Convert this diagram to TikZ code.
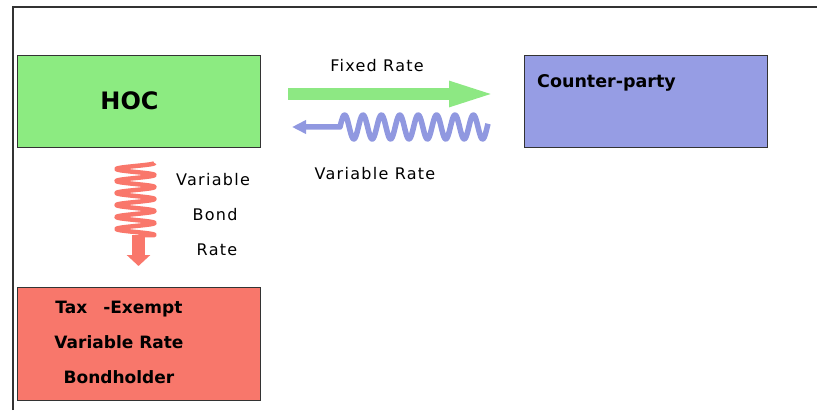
\documentclass[tikz,border=0pt]{standalone}
\usepackage{fontspec}
\setmainfont{DejaVu Sans}
\newfontfamily\ratefont[LetterSpace=8]{DejaVu Sans}
\usepackage{xcolor}
\usetikzlibrary{positioning,calc}
\usetikzlibrary{arrows.meta}

\definecolor{hocgreen}{HTML}{8CEB81}
\definecolor{cpblue}{HTML}{969DE4}
\definecolor{bondred}{HTML}{F8776B}
\definecolor{fixgreen}{HTML}{8DE883}
\definecolor{varblue}{HTML}{9098E0}
\definecolor{coilred}{HTML}{F9776B}

\tikzset{
  party/.style={draw=black!80, line width=1pt, inner sep=0pt, minimum width=243pt, minimum height=92pt},
  ratelabel/.style={font=\ratefont\fontsize{16}{19}\selectfont, inner sep=0pt},
  partylabel/.style={font=\bfseries\fontsize{17.5}{21}\selectfont, inner sep=0pt}
}

\begin{document}
\begin{tikzpicture}[x=1pt,y=-1pt]
        \useasboundingbox (0,0) rectangle (817,410);
        \draw[black!80, line width=1.4pt] (13,410) -- (13,7) -- (817,7);
        % the three parties
        \node[party, fill=hocgreen, font=\bfseries\fontsize{24}{28}\selectfont] (hoc) at (138.5,101) {\hspace*{-18pt}HOC};
        \node[party, fill=cpblue] (cp) at (646,101) {};
        \node[partylabel, anchor=west] (cptext) at (537,83) {Counter-party};
        \node[party, fill=bondred, minimum height=113pt] (bond) at (138.5,343.5) {};
        \node[partylabel, font=\bfseries\fontsize{17}{35}\selectfont, align=center] (bondtext) at (119,342) {Tax\hspace{16pt}-Exempt\\Variable Rate\\Bondholder};
        % fixed rate
        \coordinate (fixA) at (288,94);
        \coordinate (fixB) at (499,94);
        \draw[fixgreen, line width=12pt, -{Triangle[length=50pt,width=22pt]}] (fixA) -- (fixB);
        \node[ratelabel] (fixtext) at (377,66) {Fixed Rate};
        % variable rate (swap)
        \coordinate (varA) at (340,127);
        \coordinate (varB) at (292,127);
        \draw[varblue, line width=5.5pt, line join=round, -{Triangle[length=14pt,width=13pt]}]
            plot[domain=148:0, samples=240] ({340+\x},{127-12*sin(\x/18.4*360)}) -- (varB);
        \node[ratelabel] (vartext) at (375,174) {Variable Rate};
        % variable bond rate
        \coordinate (coilA) at (138.5,235);
        \coordinate (coilB) at (138.5,266);
        \draw[coilred, line width=4.5pt, line join=round]
            plot[domain=0:72, samples=300] ({135.5+19*cos(\x/12*360)},{163+\x}) -- (coilA);
        \draw[coilred, line width=13pt, -{Triangle[length=11pt,width=23pt]}] (coilA) -- (coilB);
        \node[ratelabel] (bondrate1) at (213,180) {Variable};
        \node[ratelabel] (bondrate2) at (215,215) {Bond};
        \node[ratelabel] (bondrate3) at (217,250) {Rate};
    \end{tikzpicture}
\end{document}
